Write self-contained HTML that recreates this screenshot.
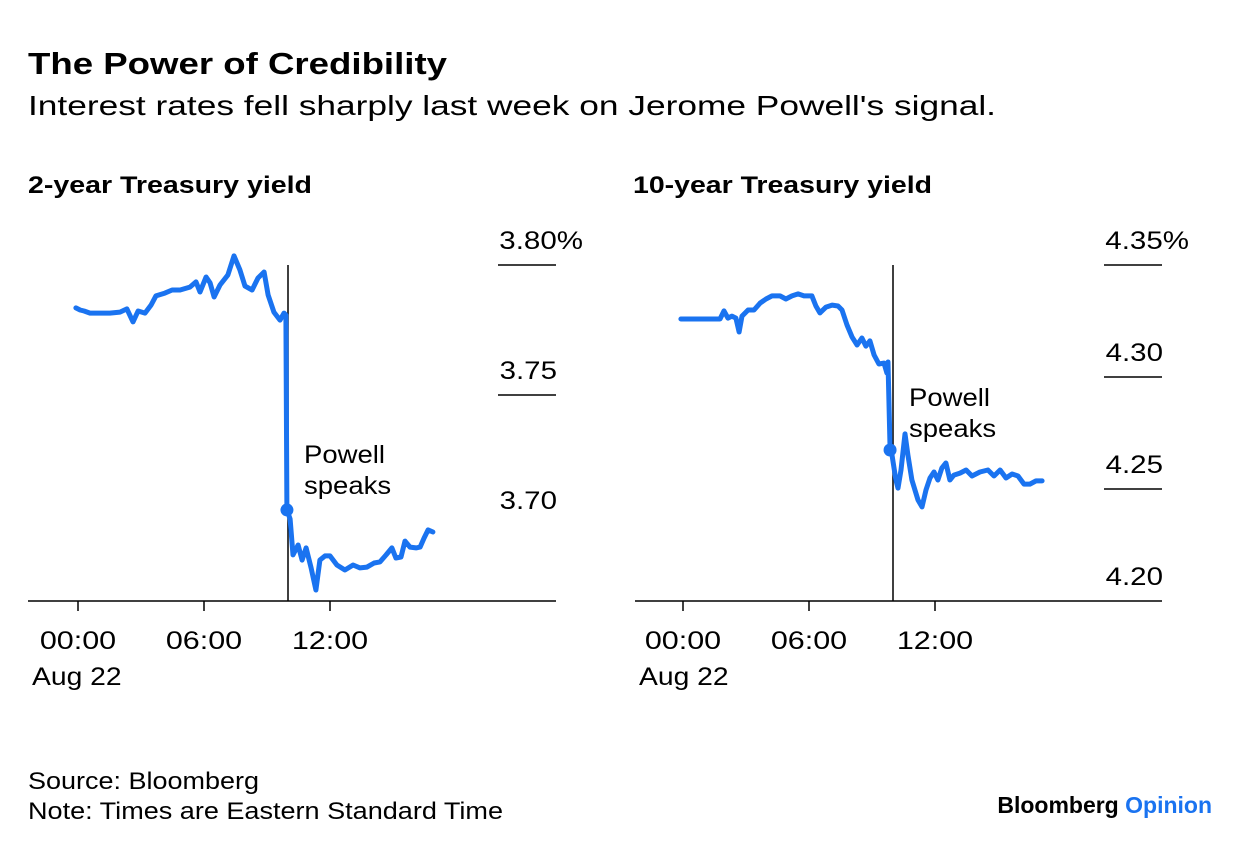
<!DOCTYPE html>
<html><head><meta charset="utf-8"><style>
body{margin:0;background:#fff;width:1240px;height:850px;overflow:hidden;font-family:"Liberation Sans",sans-serif}
svg text{font-family:"Liberation Sans",sans-serif}
</style></head><body>
<svg id="svg" width="1240" height="850" xmlns="http://www.w3.org/2000/svg">
<text x="28" y="74" font-size="31" font-weight="bold" fill="#000" textLength="419" lengthAdjust="spacingAndGlyphs">The Power of Credibility</text>
<text x="28" y="115" font-size="28" fill="#000" textLength="968" lengthAdjust="spacingAndGlyphs">Interest rates fell sharply last week on Jerome Powell's signal.</text>
<text x="28" y="193" font-size="24" font-weight="bold" textLength="284" lengthAdjust="spacingAndGlyphs">2-year Treasury yield</text>
<text x="633" y="193" font-size="24" font-weight="bold" textLength="299" lengthAdjust="spacingAndGlyphs">10-year Treasury yield</text>
<text x="28" y="789" font-size="24" textLength="231" lengthAdjust="spacingAndGlyphs">Source: Bloomberg</text>
<text x="28" y="819" font-size="24" textLength="475" lengthAdjust="spacingAndGlyphs">Note: Times are Eastern Standard Time</text>
<text x="1212" y="813" font-size="23" font-weight="bold" text-anchor="end">Bloomberg <tspan fill="#1a73f0">Opinion</tspan></text>
<g id="p1"></g>
<g id="p2"></g>
</svg>
<script>
const NS="http://www.w3.org/2000/svg";
// 2-year data (hours since 00:00 Aug 22, yield %)
const t2=[-0.10,0.10,0.29,0.57,1.05,1.52,2.00,2.33,2.62,2.86,3.19,3.48,3.71,4.14,4.48,4.86,5.33,5.62,5.81,6.10,6.29,6.48,6.76,7.14,7.43,7.71,7.95,8.29,8.57,8.86,9.05,9.33,9.62,9.81,9.90,9.95,10.10,10.24,10.48,10.67,10.86,11.10,11.33,11.52,11.76,12.00,12.33,12.71,13.10,13.43,13.76,14.10,14.38,14.67,14.95,15.14,15.38,15.57,15.81,16.10,16.29,16.48,16.67,16.90];
const v2=[3.7835,3.7827,3.7823,3.7815,3.7815,3.7815,3.7819,3.7831,3.7781,3.7823,3.7815,3.7846,3.7881,3.7892,3.7904,3.7904,3.7915,3.7935,3.7896,3.7954,3.7931,3.7877,3.7923,3.7962,3.8035,3.7981,3.7919,3.7904,3.7950,3.7973,3.7885,3.7819,3.7788,3.7815,3.7808,3.7058,3.7023,3.6885,3.6923,3.6865,3.6912,3.6835,3.6750,3.6865,3.6881,3.6881,3.6846,3.6827,3.6846,3.6835,3.6838,3.6854,3.6858,3.6885,3.6912,3.6873,3.6877,3.6938,3.6915,3.6912,3.6915,3.6950,3.6981,3.6973];
const ticks2=[3.80,3.75,3.70];
const tickLabels2=["3.80%","3.75","3.70"];
// 10-year data
const t10=[-0.10,1.76,1.95,2.14,2.33,2.52,2.67,2.81,3.10,3.38,3.67,3.95,4.24,4.62,4.90,5.19,5.48,5.76,6.14,6.33,6.52,6.81,7.10,7.38,7.57,7.81,8.05,8.29,8.52,8.71,8.90,9.10,9.33,9.57,9.71,9.76,9.86,9.95,10.14,10.24,10.38,10.57,10.71,10.90,11.19,11.38,11.57,11.76,11.95,12.14,12.33,12.52,12.71,12.90,13.19,13.48,13.76,14.14,14.52,14.81,15.10,15.38,15.67,15.95,16.24,16.52,16.81,17.10];
const v10=[4.3259,4.3259,4.3295,4.3263,4.3272,4.3263,4.3201,4.3272,4.3299,4.3299,4.3330,4.3348,4.3362,4.3362,4.3348,4.3362,4.3371,4.3362,4.3362,4.3317,4.3286,4.3312,4.3321,4.3317,4.3299,4.3232,4.3179,4.3143,4.3174,4.3138,4.3161,4.3098,4.3058,4.3062,4.3018,4.3067,4.2674,4.2652,4.2540,4.2504,4.2585,4.2746,4.2652,4.2540,4.2451,4.2420,4.2496,4.2549,4.2576,4.2540,4.2594,4.2616,4.2540,4.2562,4.2571,4.2585,4.2558,4.2576,4.2585,4.2558,4.2585,4.2549,4.2567,4.2558,4.2522,4.2522,4.2536,4.2536];
const ticks10=[4.35,4.30,4.25,4.20];
const tickLabels10=["4.35%","4.30","4.25","4.20"];
const xTicks=[0,6,12];
const xTickLabels=["00:00","06:00","12:00"];
const eventHour=10;

function el(tag,attrs,parent,txt){const e=document.createElementNS(NS,tag);for(const k in attrs)e.setAttribute(k,attrs[k]);if(txt!=null)e.textContent=txt;parent.appendChild(e);return e;}
function widen(t,f){const w=t.getComputedTextLength();t.setAttribute('textLength',(w*f).toFixed(1));t.setAttribute('lengthAdjust','spacingAndGlyphs');}

function panel(g,cfg){
  const xs=h=>cfg.x0+h*21;
  const ys=v=>cfg.yTop+(cfg.vTop-v)*cfg.ppu;
  const ax=el('line',{x1:cfg.left,x2:cfg.right,y1:601,y2:601,stroke:'#000','stroke-width':1.5},g);
  
  
  xTicks.forEach((h,i)=>{
    const tk=el('line',{x1:xs(h),x2:xs(h),y1:601,y2:611,stroke:'#000','stroke-width':1.5},g);
    
    
    const tl=el('text',{x:xs(h),y:649,'font-size':25,'text-anchor':'middle'},g,xTickLabels[i]);
    
    
    widen(tl,1.22);
  });
  const dl=el('text',{x:cfg.left+4,y:685,'font-size':25},g,'Aug 22');
  
  
  widen(dl,1.13);
  cfg.ticks.forEach((v,i)=>{
    const y=ys(v);
    if(y<595 && i<cfg.gridCount){
      const gl=el('line',{x1:cfg.right-58,x2:cfg.right,y1:y,y2:y,stroke:'#000','stroke-width':1.5},g);
      
      
    }
    const lab=cfg.labels[i];
    const tx=el('text',{x:lab.endsWith('%')?cfg.right+27:cfg.right+1,y:y-16,'font-size':25,'text-anchor':'end'},g,lab);
    
    
    widen(tx,1.18);
  });
  const ev=el('line',{x1:xs(eventHour),x2:xs(eventHour),y1:265,y2:601,stroke:'#000','stroke-width':1.5},g);
  
  
  const d=cfg.t.map((h,i)=>(i?'L':'M')+xs(h).toFixed(1)+','+ys(cfg.v[i]).toFixed(1)).join(' ');
  const p=el('path',{d:d,fill:'none',stroke:'#1a73f0','stroke-width':5,'stroke-linejoin':'round','stroke-linecap':'round'},g);
  
  
  const di=cfg.dotIndex;
  const dot=el('circle',{cx:xs(cfg.t[di]),cy:ys(cfg.v[di]),r:6.5,fill:'#1a73f0'},g);
  
  
  const a1=el('text',{x:xs(eventHour)+16,y:cfg.annY,'font-size':25},g,'Powell');
  
  
  widen(a1,1.1);
  const a2=el('text',{x:xs(eventHour)+16,y:cfg.annY+31,'font-size':25},g,'speaks');
  
  
  widen(a2,1.1);
}
panel(document.getElementById('p1'),{x0:78,left:28,right:556,yTop:265,vTop:3.80,ppu:2600,ticks:ticks2,labels:tickLabels2,gridCount:2,t:t2,v:v2,dotIndex:35,annY:463});
panel(document.getElementById('p2'),{x0:683,left:635,right:1162,yTop:265,vTop:4.35,ppu:2240,ticks:ticks10,labels:tickLabels10,gridCount:3,t:t10,v:v10,dotIndex:36,annY:406});
</script>
</body></html>
